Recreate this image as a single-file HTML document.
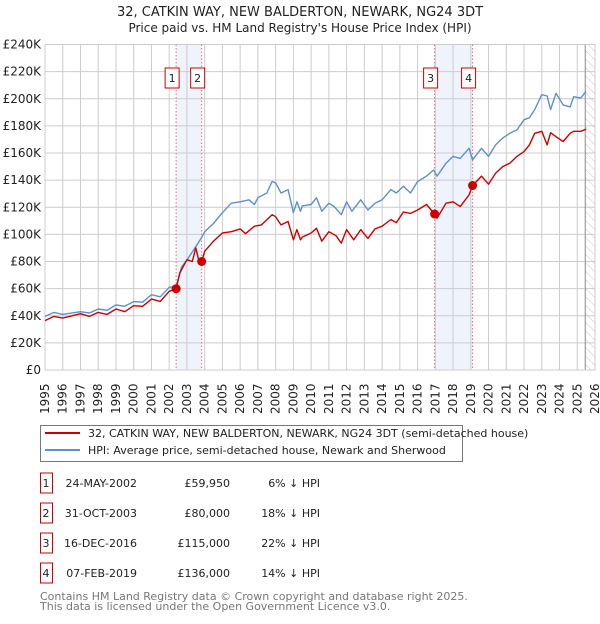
<!DOCTYPE html>
<html><head><meta charset="utf-8"><style>
body{margin:0;background:#fff;font-family:"DejaVu Sans","Liberation Sans",sans-serif;}
svg text{font-family:"DejaVu Sans","Liberation Sans",sans-serif;}
</style></head><body>
<svg id="c" width="600" height="620" xmlns="http://www.w3.org/2000/svg">
<defs><pattern id="hatch" width="6" height="6" patternUnits="userSpaceOnUse" patternTransform="rotate(-45)"><line x1="0" y1="0" x2="0" y2="6" stroke="#c8c8c8" stroke-width="1"/></pattern></defs>
<text x="300" y="16" text-anchor="middle" font-size="13" fill="#222">32, CATKIN WAY, NEW BALDERTON, NEWARK, NG24 3DT</text>
<text x="300" y="32" text-anchor="middle" font-size="12" fill="#222">Price paid vs. HM Land Registry's House Price Index (HPI)</text>
<g id="plot"></g>
<g>
<rect x="40.5" y="425.5" width="422" height="36" fill="#fff" stroke="#777"/>
<line x1="45" y1="433" x2="80" y2="433" stroke="#cc0000" stroke-width="2"/>
<text x="88" y="437" font-size="11" fill="#222">32, CATKIN WAY, NEW BALDERTON, NEWARK, NG24 3DT (semi-detached house)</text>
<line x1="45" y1="450" x2="80" y2="450" stroke="#5f8fd0" stroke-width="2"/>
<text x="88" y="454" font-size="11" fill="#222">HPI: Average price, semi-detached house, Newark and Sherwood</text>
</g>
<g id="table" font-size="11" fill="#222"></g>
<text x="40" y="600" font-size="11" fill="#777">Contains HM Land Registry data © Crown copyright and database right 2025.</text>
<text x="40" y="610" font-size="11" fill="#777">This data is licensed under the Open Government Licence v3.0.</text>
</svg>
<script>
const hpiYears=[1995,1995.5,1996,1997,1997.5,1998,1998.5,1999,1999.5,2000,2000.5,2001,2001.5,2002,2002.4,2002.7,2003,2003.5,2003.8,2004,2004.5,2005,2005.5,2006,2006.5,2006.8,2007,2007.5,2007.8,2008,2008.3,2008.7,2009,2009.2,2009.4,2009.5,2010,2010.3,2010.6,2011,2011.3,2011.7,2012,2012.3,2012.8,2013.2,2013.6,2014,2014.5,2014.8,2015.2,2015.6,2016,2016.5,2016.9,2017.1,2017.6,2018,2018.4,2018.9,2019.1,2019.6,2020,2020.4,2020.8,2021.2,2021.6,2022,2022.3,2022.6,2023,2023.3,2023.5,2023.8,2024.2,2024.6,2024.8,2025.2,2025.5];
const hpiValues=[39.5,42.5,41,43,42,45,44,48,47,50.5,50,55.5,54,61,61.5,76,81,91,97,102,108,116,123,124,125.5,122,127,130.5,139,138,130.5,133,116,124,117,121,122,127,117,123,120.5,114.5,124,117,125.5,118,123,125.5,133,130.5,135.5,130.5,139,143,147.5,143,152.5,157.5,156,163.5,155,163.5,157.5,166,171,174.5,177,184.5,186,192,203,202,192,204,195.5,194,201.5,200.5,205.5];
const priceYears=[1995,1995.5,1996,1997,1997.5,1998,1998.5,1999,1999.5,2000,2000.5,2001,2001.5,2002,2002.39,2002.6,2003,2003.3,2003.5,2003.7,2003.83,2004,2004.5,2005,2005.5,2006,2006.3,2006.8,2007.2,2007.8,2008,2008.3,2008.7,2009,2009.2,2009.4,2009.5,2010,2010.3,2010.6,2011,2011.4,2011.7,2012,2012.4,2012.8,2013.2,2013.6,2014,2014.5,2014.8,2015.2,2015.6,2016,2016.5,2016.96,2017.1,2017.6,2018,2018.4,2018.9,2019.1,2019.6,2020,2020.4,2020.8,2021.2,2021.6,2022,2022.3,2022.6,2023,2023.3,2023.5,2023.8,2024.2,2024.6,2024.8,2025.2,2025.5];
const priceValues=[36.4,39.5,38.3,41.5,39.5,42.5,41,45,43,47.4,47,52.3,50.6,58,59.95,71.5,81.3,80,90,79,80,87.5,95,101,102,104,100.5,106,107,114.5,113,107,109.5,96,103.5,96,98,101,104.5,95,102,99,93.6,103.5,96,103.5,97,104,106,111,108.5,116.5,115.5,118,122,115,112,123,124,120.5,129,136,143,137,145,150,152.5,157.5,161,166,174.5,176,166,175,172,168.5,174.5,176,176,177.6];
const saleYears=[2002.39,2003.83,2016.96,2019.10];
const salePrices=[59.95,80,115,136];
const saleDates=["24-MAY-2002","31-OCT-2003","16-DEC-2016","07-FEB-2019"];
const salePriceLabels=["£59,950","£80,000","£115,000","£136,000"];
const saleHpiLabels=["6% ↓ HPI","18% ↓ HPI","22% ↓ HPI","14% ↓ HPI"];
const yTicks=[0,20,40,60,80,100,120,140,160,180,200,220,240];
const xTicks=[1995,1996,1997,1998,1999,2000,2001,2002,2003,2004,2005,2006,2007,2008,2009,2010,2011,2012,2013,2014,2015,2016,2017,2018,2019,2020,2021,2022,2023,2024,2025,2026];

const NS="http://www.w3.org/2000/svg";
const L=45,R=595,T=44.5,B=370;
const xS=y=>L+(y-1995)*(R-L)/31;
const yS=v=>B-v*(B-T)/240;
const plot=document.getElementById('plot');
function mk(tag,attrs,parent){const e=document.createElementNS(NS,tag);for(const k in attrs)e.setAttribute(k,attrs[k]);(parent||plot).appendChild(e);return e;}

for(let i=0;i<saleYears.length;i+=2){
 const b=mk('rect',{x:xS(saleYears[i]),y:T,width:xS(saleYears[i+1])-xS(saleYears[i]),height:B-T,fill:'#eef3fc'});
 
 
}
yTicks.forEach(v=>{
 const g=mk('line',{x1:L,x2:R,y1:yS(v),y2:yS(v),stroke:'#cccccc','stroke-width':1});
 
 
 const t=mk('text',{x:L-4,y:yS(v)+4,'text-anchor':'end','font-size':12,fill:'#222'});
 t.textContent=v===0?'£0':'£'+v+'K';
 
 
});
xTicks.forEach(y=>{
 const g=mk('line',{x1:xS(y),x2:xS(y),y1:T,y2:B,stroke:'#cccccc','stroke-width':1});
 
 
 const t=mk('text',{transform:`translate(${xS(y)+4},${B+44}) rotate(-90)`,'font-size':12,fill:'#222'});
 t.textContent=y;
 
 
});
const hx=xS(2025.45);
const h=mk('rect',{x:hx,y:T,width:R-hx,height:B-T,fill:'url(#hatch)'});


mk('line',{x1:hx,x2:hx,y1:T,y2:B,stroke:'#888','stroke-width':1});
mk('rect',{x:L,y:T,width:R-L,height:B-T,fill:'none',stroke:'#cccccc'});
saleYears.forEach((s,i)=>{
 const v=mk('line',{x1:xS(s),x2:xS(s),y1:T,y2:B,stroke:'#e87070','stroke-width':1,'stroke-dasharray':'1.5,2'});
 
 
});
function path(xs,vs,color,name){
 const d=xs.map((x,i)=>(i?'L':'M')+xS(x).toFixed(1)+','+yS(vs[i]).toFixed(1)).join('');
 const p=mk('path',{d:d,fill:'none',stroke:color,'stroke-width':1.4,'stroke-linejoin':'round'});
 
 
}
path(hpiYears,hpiValues,'#5f8fd0','hpi-line');
path(priceYears,priceValues,'#cc0000','price-line');
saleYears.forEach((s,i)=>{
 const c=mk('circle',{cx:xS(s),cy:yS(salePrices[i]),r:4.5,fill:'#cc0000'});
 
 
 const bx=xS(s)-4;
 const r=mk('rect',{x:bx-7,y:68,width:14,height:20,fill:'#fff',stroke:'#cc0000'});
 
 
 const t=mk('text',{x:bx,y:82,'text-anchor':'middle','font-size':11,fill:'#222'});
 t.textContent=i+1;
 
 
});
const tb=document.getElementById('table');
saleYears.forEach((s,i)=>{
 const y=483+i*30;
 const r=mk('rect',{x:40.5,y:y-10,width:12,height:20,fill:'#fff',stroke:'#cc0000'},tb);
 
 
 const cells=[[46,'middle',String(i+1)],[137,'end',saleDates[i]],[230,'end',salePriceLabels[i]],[320,'end',saleHpiLabels[i]]];
 cells.forEach(c=>{
  const t=mk('text',{x:c[0],y:y+4,'text-anchor':c[1],'font-size':11,fill:'#222'},tb);
  t.textContent=c[2];
  
  
 });
});
</script>
</body></html>
